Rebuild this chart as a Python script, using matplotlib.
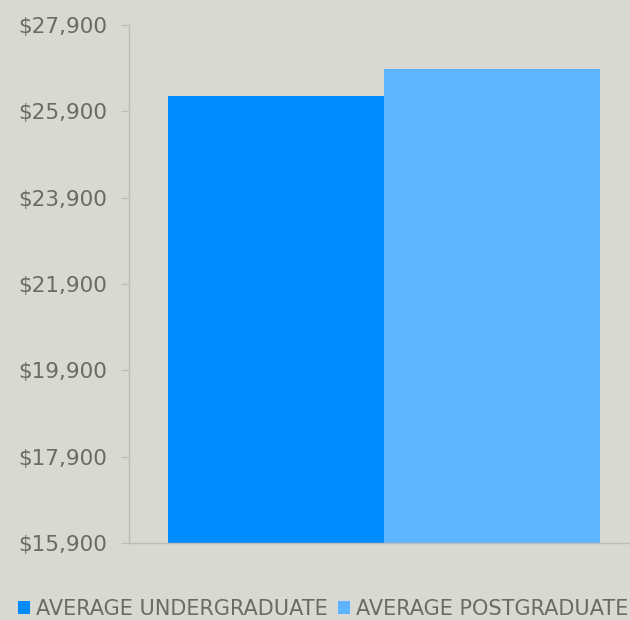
import matplotlib
matplotlib.use("Agg")
import matplotlib.pyplot as plt
from matplotlib.patches import Patch
from matplotlib.ticker import FuncFormatter

series = ["AVERAGE UNDERGRADUATE", "AVERAGE POSTGRADUATE"]
values = [26260, 26880]
colors = ["#008bff", "#5fb4ff"]
yticks = [15900, 17900, 19900, 21900, 23900, 25900, 27900]

bg = "#d9d9d3"
txt = "#6b6b63"

fig = plt.figure(figsize=(6.3, 6.2), dpi=100, facecolor=bg)
ax = fig.add_axes([129/630, 1 - 543/620, (630 - 129)/630, (543 - 25)/620])
ax.set_facecolor(bg)

for i, (s, v, c) in enumerate(zip(series, values, colors)):
    ax.bar(i, v - yticks[0], bottom=yticks[0], width=1.0, color=c, label=s, linewidth=0)

ax.set_xlim(-0.68, 1.64)
ax.set_ylim(yticks[0], yticks[-1])
ax.set_yticks(yticks)
ax.yaxis.set_major_formatter(FuncFormatter(lambda v, p: "${:,.0f}".format(v)))
ax.set_xticks([])
for sp in ["top", "right"]:
    ax.spines[sp].set_visible(False)
for sp in ["left", "bottom"]:
    ax.spines[sp].set_color("#bdbdb6")
    ax.spines[sp].set_linewidth(1.0)
ax.tick_params(axis="y", colors="#bdbdb6", labelcolor=txt, labelsize=15.5, length=6, pad=10)

handles = [Patch(facecolor=c, edgecolor="none") for c in colors]
fig.legend(handles, series, loc="center left", bbox_to_anchor=(8/630, 1 - 609/620), ncol=2,
           frameon=False, fontsize=15, labelcolor=txt, handlelength=0.55, handleheight=0.55,
           handletextpad=0.3, columnspacing=0.5, borderpad=0.0)

fig.savefig("out.png", dpi=100, facecolor=bg)
